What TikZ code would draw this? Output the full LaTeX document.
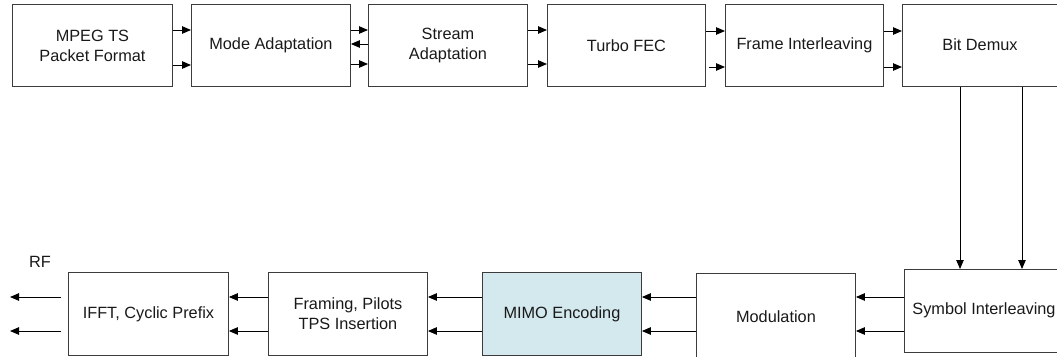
\documentclass[tikz,border=0pt]{standalone}
\usepackage{fontspec}
\setmainfont{Liberation Sans}
\usetikzlibrary{arrows.meta,calc}
\definecolor{boxline}{RGB}{60,60,60}
\definecolor{mimofill}{RGB}{211,233,238}
\tikzset{
  blk/.style={draw=boxline, line width=0.9pt, rectangle, inner sep=0pt, anchor=north west, align=center,
    font=\fontsize{16.3}{20}\selectfont, text=black!90},
  lbl/.style={font=\fontsize{16.3}{20}\selectfont, text=black!90},
  arr/.style={draw=black, line width=0.9pt, -{Triangle[length=9pt,width=7.5pt]}}
}
\begin{document}
\begin{tikzpicture}[x=1pt,y=-1pt]
\useasboundingbox (0,0) rectangle (1057,356);
\clip (0,0) rectangle (1057,356);
% top row
\node[blk, minimum width=160pt, minimum height=82pt] (mpeg) at (12,4) {MPEG TS\\Packet Format};
\node[blk, minimum width=159pt, minimum height=82pt] (mode) at (191,4) {Mode Adaptation};
\node[blk, minimum width=159pt, minimum height=82pt] (stream) at (368,4) {Stream\\Adaptation};
\node[blk, minimum width=158pt, minimum height=82pt] (turbo) at (547,4) {Turbo FEC};
\node[blk, minimum width=158pt, minimum height=82pt] (frame) at (725,4) {Frame Interleaving};
\node[blk, minimum width=160pt, minimum height=82pt] (bitd) at (902,4) {};
\node[lbl] (bitdt) at (980,45) {Bit Demux};
% bottom row
\node[blk, minimum width=160pt, minimum height=83pt] (ifft) at (68,272) {IFFT, Cyclic Prefix};
\node[blk, minimum width=159pt, minimum height=83pt] (framing) at (268,272) {Framing, Pilots\\TPS Insertion};
\node[blk, minimum width=159pt, minimum height=83pt, fill=mimofill] (mimo) at (482,272) {MIMO Encoding};
\node[blk, minimum width=159pt, minimum height=86pt] (mod) at (696,273) {Modulation};
\node[blk, minimum width=160pt, minimum height=83pt] (sym) at (904,269) {};
\node[lbl] (symt) at (984,310) {Symbol Interleaving};
\node[lbl] (rf) at (40,262) {RF};
% top connectors
\draw[arr] (mpeg.east |- 0,30) -- (mode.west |- 0,30);
\draw[arr] (mpeg.east |- 0,65) -- (mode.west |- 0,65);
\draw[arr] (mode.east |- 0,30) -- (stream.west |- 0,30);
\draw[arr] (stream.west |- 0,44) -- (mode.east |- 0,44);
\draw[arr] (mode.east |- 0,64) -- (stream.west |- 0,64);
\draw[arr] (stream.east |- 0,30) -- (turbo.west |- 0,30);
\draw[arr] (stream.east |- 0,64) -- (turbo.west |- 0,64);
\draw[arr] (turbo.east |- 0,31) -- (frame.west |- 0,31);
\draw[arr] ($(turbo.east |- 0,67)+(3,0)$) -- (frame.west |- 0,67);
\draw[arr] (frame.east |- 0,31) -- (bitd.west |- 0,31);
\draw[arr] (frame.east |- 0,67) -- (bitd.west |- 0,67);
% vertical
\draw[arr] (bitd.south -| 960,0) -- (sym.north -| 960,0);
\draw[arr] (bitd.south -| 1022,0) -- (sym.north -| 1022,0);
% bottom connectors
\draw[arr] (sym.west |- 0,297) -- (mod.east |- 0,297);
\draw[arr] (sym.west |- 0,331) -- (mod.east |- 0,331);
\draw[arr] (mod.west |- 0,297) -- (mimo.east |- 0,297);
\draw[arr] (mod.west |- 0,331) -- (mimo.east |- 0,331);
\draw[arr] (mimo.west |- 0,297) -- (framing.east |- 0,297);
\draw[arr] (mimo.west |- 0,331) -- (framing.east |- 0,331);
\draw[arr] (framing.west |- 0,297) -- (ifft.east |- 0,297);
\draw[arr] (framing.west |- 0,331) -- (ifft.east |- 0,331);
\coordinate (rfa) at (10,297);
\coordinate (rfb) at (10,331);
\draw[arr] ($(ifft.west |- 0,297)+(-7,0)$) -- (rfa);
\draw[arr] ($(ifft.west |- 0,331)+(-7,0)$) -- (rfb);
\end{tikzpicture}
\end{document}
